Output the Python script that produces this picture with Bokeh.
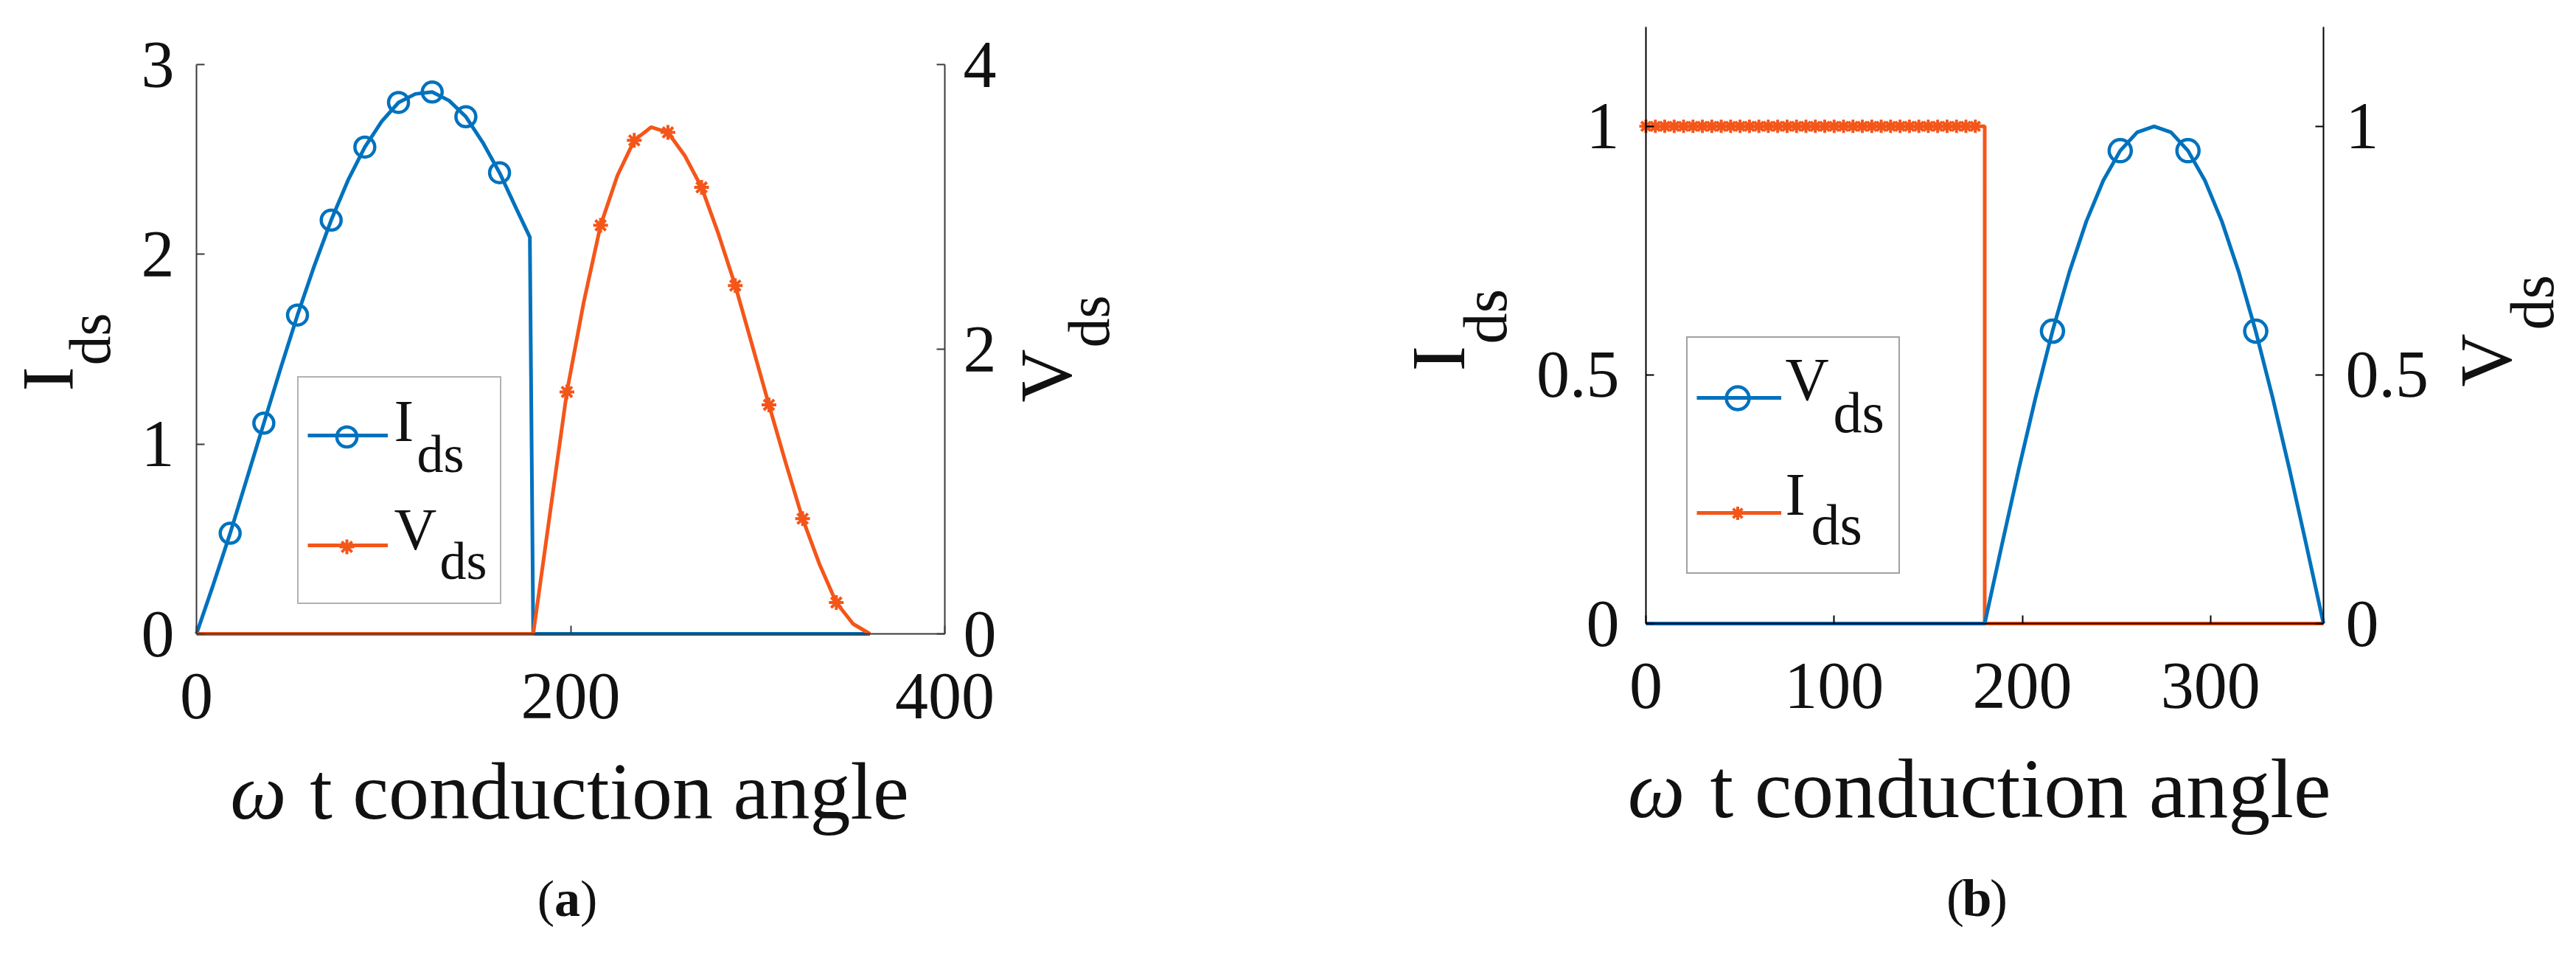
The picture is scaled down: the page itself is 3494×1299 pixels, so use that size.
import math
from bokeh.plotting import figure
from bokeh.models import Range1d, LinearAxis, Label, Legend, LegendItem, FixedTicker
from bokeh.embed import file_html
from bokeh.resources import INLINE

BLUE = "#0072BD"
ORANGE = "#F4561A"
FONT = "Liberation Serif"
INK = "#111111"

# ---------------- data, panel (a) ----------------
a_ids_theta = [0, 9, 18, 27, 36, 45, 54, 63, 72, 81, 90, 99, 108, 117, 126, 135,
               144, 153, 162, 171, 178.2, 180, 360]
a_ids = [0, 0.26, 0.53, 0.82, 1.11, 1.40, 1.68, 1.94, 2.18, 2.39, 2.565, 2.70, 2.80,
         2.845, 2.855, 2.81, 2.725, 2.59, 2.43, 2.24, 2.09, 0, 0]
a_ids_mark_theta = [18, 36, 54, 72, 90, 108, 126, 144, 162]
a_ids_mark = [0.53, 1.11, 1.68, 2.18, 2.565, 2.80, 2.855, 2.725, 2.43]

a_vds_theta = [0, 180, 189, 198, 207, 216, 225, 234, 243, 252, 261, 270, 279, 288,
               297, 306, 315, 324, 333, 342, 351, 360]
a_vds = [0, 0, 0.85, 1.70, 2.33, 2.87, 3.22, 3.467, 3.56, 3.523, 3.36, 3.137, 2.81,
         2.447, 2.03, 1.609, 1.20, 0.809, 0.49, 0.22, 0.07, 0]
a_vds_mark_theta = [198, 216, 234, 252, 270, 288, 306, 324, 342]
a_vds_mark = [1.70, 2.87, 3.467, 3.523, 3.137, 2.447, 1.609, 0.809, 0.22]

a_xlim = (0, 400)
a_ilim = (0, 3)
a_vlim = (0, 4)
a_xticks = [0, 200, 400]
a_left_ticks = [0, 1, 2, 3]
a_right_ticks = [0, 2, 4]

# ---------------- data, panel (b) ----------------
b_ids_theta = [0, 180, 180, 360]
b_ids = [1, 1, 0, 0]
b_ids_mark_theta = [0, 5, 10, 15, 20, 25, 30, 35, 40, 45, 50, 55, 60, 65, 70, 75, 80, 85,
                    90, 95, 100, 105, 110, 115, 120, 125, 130, 135, 140, 145, 150, 155,
                    160, 165, 170, 175]
b_ids_mark = [1, 1, 1, 1, 1, 1, 1, 1, 1, 1, 1, 1, 1, 1, 1, 1, 1, 1,
              1, 1, 1, 1, 1, 1, 1, 1, 1, 1, 1, 1, 1, 1, 1, 1, 1, 1]

b_vds_theta = [0, 180, 189, 198, 207, 216, 225, 234, 243, 252, 261, 270, 279, 288,
               297, 306, 315, 324, 333, 342, 351, 360]
b_vds = [0, 0, 0.156, 0.309, 0.454, 0.588, 0.707, 0.809, 0.891, 0.951, 0.988, 1.0,
         0.988, 0.951, 0.891, 0.809, 0.707, 0.588, 0.454, 0.309, 0.156, 0]
b_vds_mark_theta = [216, 252, 288, 324]
b_vds_mark = [0.588, 0.951, 0.951, 0.588]

b_xlim = (0, 360)
b_ylim = (0, 1.2)
b_xticks = [0, 100, 200, 300]
b_yticks = [0, 0.5, 1]
b_tick_text = {0: "0", 0.5: "0.5", 1: "1"}

# ---------------- page geometry (pixels on the page) ----------------
CX0, CY0, CW, CH = 0, 0, 3486, 1291          # canvas
A_BOX = (266, 87, 1281, 859)                  # panel (a) axes box: left, top, right, bottom
B_BOX = (2232, 36, 3151, 845)                 # panel (b) axes box


def span(lo_px, hi_px, lo_val, hi_val, c_lo, c_hi):
    k = (hi_val - lo_val) / (hi_px - lo_px)
    return lo_val + (c_lo - lo_px) * k, lo_val + (c_hi - lo_px) * k


def xrange_for(box, lim):
    s, e = span(box[0], box[2], lim[0], lim[1], CX0, CX0 + CW)
    return Range1d(s, e)


def yrange_for(box, lim):
    s, e = span(box[3], box[1], lim[0], lim[1], CY0 + CH, CY0)
    return Range1d(s, e)


p = figure(width=CW, height=CH, min_border=0,
           x_range=xrange_for(A_BOX, a_xlim), y_range=yrange_for(A_BOX, a_ilim),
           x_axis_type=None, y_axis_type=None,
           output_backend="svg", toolbar_location=None)
p.extra_y_ranges = {"av": yrange_for(A_BOX, a_vlim), "by": yrange_for(B_BOX, b_ylim)}
p.extra_x_ranges = {"bx": xrange_for(B_BOX, b_xlim)}
p.outline_line_color = None
p.background_fill_color = "white"
p.border_fill_color = "white"


def make_axis(side, ticks, bounds, loc, standoff, fsize, color, overrides=None, **kw):
    ax = LinearAxis(fixed_location=loc, bounds=bounds, **kw)
    ax.ticker = FixedTicker(ticks=ticks)
    ax.major_tick_in = 11
    ax.major_tick_out = 0
    ax.minor_tick_line_color = None
    ax.axis_line_color = color
    ax.axis_line_width = 2
    ax.major_tick_line_color = color
    ax.major_tick_line_width = 2
    ax.major_label_text_font = FONT
    ax.major_label_text_font_size = fsize
    ax.major_label_text_color = INK
    ax.major_label_standoff = standoff
    if overrides:
        ax.major_label_overrides = overrides
    p.add_layout(ax, side)
    return ax


# axes of panel (a)
CA = "#3a3a3a"
make_axis("below", a_xticks, a_xlim, a_ilim[0], 54, "90px", CA)
make_axis("left", a_left_ticks, a_ilim, a_xlim[0], 30, "90px", CA)
make_axis("right", a_right_ticks, a_vlim, a_xlim[1], 25, "90px", CA, y_range_name="av")
# axes of panel (b)
CB = "#000000"
make_axis("below", b_xticks, b_xlim, b_ylim[0], 54, "90px", CB, None,
          x_range_name="bx", y_range_name="by")
make_axis("left", b_yticks, b_ylim, b_xlim[0], 36, "90px", CB, b_tick_text,
          x_range_name="bx", y_range_name="by")
make_axis("right", b_yticks, b_ylim, b_xlim[1], 30, "90px", CB, b_tick_text,
          x_range_name="bx", y_range_name="by")

# ---------------- marks ----------------
LW = 5
la1 = p.line(a_ids_theta, a_ids, line_color=BLUE, line_width=LW)
sa1 = p.scatter(a_ids_mark_theta, a_ids_mark, marker="circle", size=27,
                fill_color=None, line_color=BLUE, line_width=4.5)
la2 = p.line(a_vds_theta, a_vds, line_color=ORANGE, line_width=LW, y_range_name="av")
sa2 = p.scatter(a_vds_mark_theta, a_vds_mark, marker="asterisk", size=20,
                line_color=ORANGE, line_width=4, y_range_name="av")

lb2 = p.line(b_ids_theta, b_ids, line_color=ORANGE, line_width=LW,
             x_range_name="bx", y_range_name="by")
sb2 = p.scatter(b_ids_mark_theta, b_ids_mark, marker="asterisk", size=18,
                line_color=ORANGE, line_width=4, x_range_name="bx", y_range_name="by")
lb1 = p.line(b_vds_theta, b_vds, line_color=BLUE, line_width=LW,
             x_range_name="bx", y_range_name="by")
sb1 = p.scatter(b_vds_mark_theta, b_vds_mark, marker="circle", size=30,
                fill_color=None, line_color=BLUE, line_width=4.5,
                x_range_name="bx", y_range_name="by")


# ---------------- legends ----------------
def legend_box(renderers, left, bottom, pad, spacing, gw, gh, lw, standoff, border):
    items = [LegendItem(label=" ", renderers=[r]) for r in renderers]
    leg = Legend(items=items, location=(left - CX0, CY0 + CH - bottom), padding=pad,
                 spacing=spacing, glyph_width=gw, glyph_height=gh, label_width=lw,
                 label_height=gh, label_standoff=standoff, margin=0,
                 border_line_color=border, border_line_width=2,
                 background_fill_alpha=0, label_text_font=FONT,
                 label_text_font_size="2px")
    p.add_layout(leg)


def marker_key(renderer, cx, cy, box):
    legend_box([renderer], cx - box / 2, cy + box / 2, 0, 0, box, box, 0, 0, None)


legend_box([la1, la2], 403, 819, 12, 17, 109, 132, 130, 10, "#666666")
marker_key(sa1, 469.5, 592, 68)
marker_key(sa2, 469.5, 741, 50)
legend_box([lb1, lb2], 2287, 778, 12, 18, 115, 138, 139, 8, "#444444")
marker_key(sb1, 2356.5, 539, 77)
marker_key(sb2, 2356.5, 695, 45)


# ---------------- texts ----------------
def X(px):
    return (px - A_BOX[0]) / (A_BOX[2] - A_BOX[0]) * (a_xlim[1] - a_xlim[0])


def Y(py):
    return (A_BOX[3] - py) / (A_BOX[3] - A_BOX[1]) * (a_ilim[1] - a_ilim[0])


HALF_PI = math.pi / 2
SHIFT = 0.3  # em; the rendered baseline sits this much lower than asked


def txt(px, py, text, size, angle=0.0, align="left", style="normal"):
    s = float(size.replace("px", ""))
    if angle:
        px -= SHIFT * s
    else:
        py -= SHIFT * s
    p.add_layout(Label(x=X(px), y=Y(py), text=text, angle=angle, text_align=align,
                       text_baseline="alphabetic", text_font=FONT,
                       text_font_size=size, text_font_style=style, text_color=INK))


# panel (a)
txt(94, 530, "I", "100px", angle=HALF_PI)
txt(145, 495, "ds", "80px", angle=HALF_PI)
txt(1448, 545, "V", "100px", angle=HALF_PI)
txt(1500, 471, "ds", "80px", angle=HALF_PI)
txt(388, 1105, "ω", "108px", align="right", style="italic")
txt(826, 1105, "t conduction angle", "110px", align="center")
txt(751.5, 1239, "(", "70px", align="right")
txt(769, 1239, "a", "70px", align="center", style="bold")
txt(786.5, 1239, ")", "70px")
txt(534, 594, "I", "80px")
txt(565, 637, "ds", "72px")
txt(534, 741, "V", "80px")
txt(596, 782, "ds", "72px")

# panel (b)
txt(1981, 503, "I", "104px", angle=HALF_PI)
txt(2039, 466, "ds", "84px", angle=HALF_PI)
txt(3401, 524, "V", "100px", angle=HALF_PI)
txt(3459, 447, "ds", "84px", angle=HALF_PI)
txt(2285, 1103, "ω", "110px", align="right", style="italic")
txt(2740, 1103, "t conduction angle", "114px", align="center")
txt(2663.5, 1239, "(", "72px", align="right")
txt(2681, 1239, "b", "72px", align="center", style="bold")
txt(2698.5, 1239, ")", "72px")
txt(2421, 539, "V", "82px")
txt(2486, 582, "ds", "78px")
txt(2421, 695, "I", "82px")
txt(2456, 734, "ds", "78px")

open("out.html", "w").write(file_html(p, INLINE))
